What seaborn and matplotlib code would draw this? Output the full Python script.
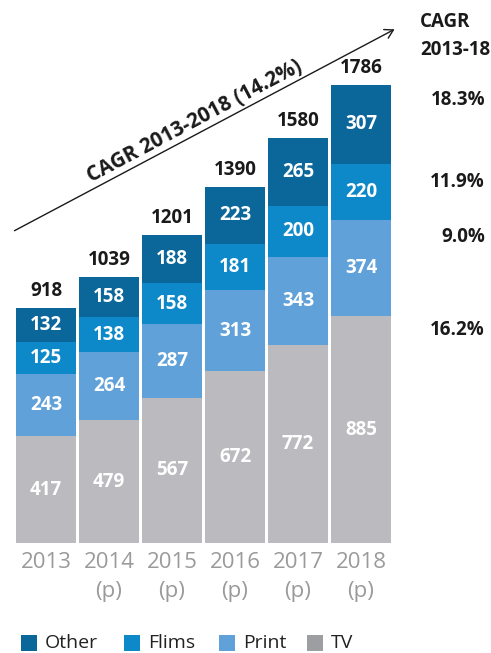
import matplotlib
matplotlib.use("Agg")
import matplotlib.pyplot as plt
from matplotlib.patches import Rectangle, FancyArrowPatch
import matplotlib.transforms as mtrans
import seaborn as sns
import pandas as pd
import numpy as np

years = ["2013", "2014", "2015", "2016", "2017", "2018"]
year_sub = ["", "(p)", "(p)", "(p)", "(p)", "(p)"]
tv = [417, 479, 567, 672, 772, 885]
print_ = [243, 264, 287, 313, 343, 374]
flims = [125, 138, 158, 181, 200, 220]
other = [132, 158, 188, 223, 265, 307]
totals = [918, 1039, 1201, 1390, 1580, 1786]
segment_cagr = ["18.3%", "11.9%", "9.0%", "16.2%"]
overall_cagr = "CAGR 2013-2018 (14.2%)"
series_names = ["Other", "Flims", "Print", "TV"]
bar_colors = {"Other": "#0b6699", "Flims": "#0d88c9", "Print": "#5fa1d8", "TV": "#bbbbbf"}
legend_colors = {"Other": "#0b6699", "Flims": "#0d88c9", "Print": "#5fa1d8", "TV": "#9d9ea2"}

sns.set_theme(style="white")
plt.rcParams["font.family"] = ["Open Sans", "DejaVu Sans"]

W, H = 491, 653
fig = plt.figure(figsize=(W / 100, H / 100), dpi=100)
fig.patch.set_facecolor("white")

def fx(px):
    return px / W

def fy(py):
    return 1 - py / H

ax_left, ax_w = 14.5, 378
ax_bottom_px = 543
ax = fig.add_axes([fx(ax_left), fy(ax_bottom_px), ax_w / W, ax_bottom_px / H])

layers = {"TV": np.array(tv), "Print": np.array(print_), "Flims": np.array(flims), "Other": np.array(other)}
order_bottom_up = ["TV", "Print", "Flims", "Other"]
cum = {}
running = np.zeros(len(years))
bottoms = {}
for name in order_bottom_up:
    bottoms[name] = running.copy()
    running = running + layers[name]
    cum[name] = running.copy()

for name in reversed(order_bottom_up):
    df = pd.DataFrame({"year": years, "value": cum[name]})
    sns.barplot(data=df, x="year", y="value", color=bar_colors[name], saturation=1,
                width=0.95, ax=ax, linewidth=0, order=years)

scale = 458 / 1786.0
ax.set_xlim(-0.5, 5.5)
ax.set_ylim(0, ax_bottom_px / scale)
ax.axis("off")

for name in order_bottom_up:
    for i in range(len(years)):
        v = layers[name][i]
        ax.text(i, bottoms[name][i] + v / 2, str(v), ha="center", va="center",
                color="white", fontsize=13.5, fontweight="bold")

for i, t in enumerate(totals):
    ax.text(i, cum["Other"][i] + 17 / scale, str(t), ha="center", va="center",
            color="#1a1a1a", fontsize=13.5, fontweight="bold")

trans = mtrans.blended_transform_factory(ax.transData, fig.transFigure)
for i, (y, s) in enumerate(zip(years, year_sub)):
    ax.text(i, fy(563), y, transform=trans, ha="center", va="center",
            color="#9a9a9c", fontsize=16)
    if s:
        ax.text(i, fy(592), s, transform=trans, ha="center", va="center",
                color="#9a9a9c", fontsize=16)

# arrow
arrow = FancyArrowPatch((fx(12), fy(232)), (fx(397), fy(28)), transform=fig.transFigure,
                        arrowstyle="->,head_length=6,head_width=3.5", color="#1a1a1a",
                        linewidth=1.0, mutation_scale=1)
fig.add_artist(arrow)
angle = np.degrees(np.arctan2(204, 385))
fig.text(fx(195), fy(121), overall_cagr, rotation=angle, rotation_mode="anchor",
         ha="center", va="center", fontsize=14.8, fontweight="bold", color="#1a1a1a")

# right CAGR column
fig.text(fx(420), fy(22), "CAGR", ha="left", va="center", fontsize=13.5,
         fontweight="bold", color="#1a1a1a")
fig.text(fx(420), fy(50), "2013-18", ha="left", va="center", fontsize=13.5,
         fontweight="bold", color="#1a1a1a")
cagr_y = [100, 182, 237, 330]
for lab, yy in zip(segment_cagr, cagr_y):
    fig.text(fx(485), fy(yy), lab, ha="right", va="center", fontsize=13.5,
             fontweight="bold", color="#1a1a1a")

# legend
leg_sq_x = [21, 124, 219, 307]
for name, x in zip(series_names, leg_sq_x):
    fig.add_artist(Rectangle((fx(x), fy(651)), 16 / W, 16 / H, transform=fig.transFigure,
                             facecolor=legend_colors[name], edgecolor="none"))
    fig.text(fx(x + 24), fy(643), name, ha="left", va="center", fontsize=14, color="#222222")

fig.savefig("out.png", dpi=100, facecolor="white")
